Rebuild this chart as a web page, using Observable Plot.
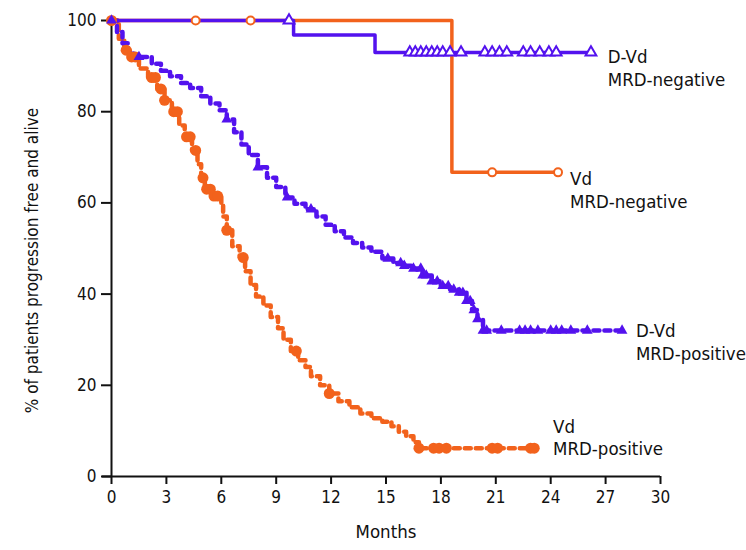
<!DOCTYPE html>
<html>
<head>
<meta charset="utf-8">
<script src="https://cdn.jsdelivr.net/npm/d3@7"></script>
<script src="https://cdn.jsdelivr.net/npm/@observablehq/plot@0.6"></script>
<style>
  html, body { margin: 0; padding: 0; background: #fff; }
  #chart svg { display: block; }
</style>
</head>
<body>
<div id="chart"></div>
<script>
// ---------- data ----------
const xTicks = [0, 3, 6, 9, 12, 15, 18, 21, 24, 27, 30];
const yTicks = [0, 20, 40, 60, 80, 100];
const xLabel = "Months";
const yLabel = "% of patients progression free and alive";

// D-Vd MRD-negative (solid purple)
const dvdNegTime = [0, 9.95, 14.4, 26.3];
const dvdNegSurv = [100, 96.8, 93.0, 93.0];
const dvdNegCens = [9.7, 16.3, 16.6, 16.9, 17.2, 17.5, 17.8, 18.1, 18.5, 19.1, 20.4, 20.8, 21.2, 21.6, 22.5, 22.9, 23.4, 23.9, 24.3, 26.2];

// Vd MRD-negative (solid orange)
const vdNegTime = [0, 18.6, 24.4];
const vdNegSurv = [100, 66.7, 66.7];
const vdNegCens = [4.6, 7.6, 20.8, 24.4];

// D-Vd MRD-positive (dashed purple)
const dvdPosTime = [0, 0.3, 0.6, 0.9, 1.2, 2.2, 2.7, 3.2, 3.8, 4.3, 4.9, 5.4, 5.9, 6.3, 6.7, 7.1, 7.5, 8.0, 8.5, 9.0, 9.5, 10.0, 10.6, 11.2, 11.7, 12.2, 12.7, 13.2, 13.7, 14.2, 14.8, 15.4, 16.0, 16.5, 17.0, 17.5, 18.0, 18.5, 19.0, 19.4, 19.7, 20.0, 20.3, 28.0];
const dvdPosSurv = [100, 97.5, 95, 93, 92, 90.5, 89, 87.8, 86.3, 85.2, 83.4, 81.8, 80.3, 78.3, 75.5, 72.8, 70.5, 67.8, 65.5, 63.5, 61.2, 59.8, 58.6, 57.0, 55.2, 53.8, 52.4, 51.2, 50.2, 49.3, 47.8, 46.8, 46.2, 45.6, 44.1, 42.8, 41.8, 41.0, 40.3, 38.5, 36.5, 34.5, 32.0, 32.0];
const dvdPosCens = [0, 1.5, 6.3, 8.0, 9.6, 10.9, 15.1, 15.8, 16.0, 16.5, 16.9, 17.0, 17.2, 17.5, 17.8, 18.1, 18.4, 18.7, 19.0, 19.2, 19.4, 19.6, 19.8, 20.0, 20.3, 20.5, 21.3, 22.3, 22.6, 22.9, 23.3, 24.0, 24.3, 24.6, 25.1, 26.0, 27.9];

// Vd MRD-positive (dashed orange)
const vdPosTime = [0, 0.4, 0.7, 1.0, 1.5, 2.0, 2.5, 2.9, 3.3, 3.7, 4.0, 4.4, 4.7, 4.9, 5.1, 5.6, 6.0, 6.1, 6.3, 6.6, 7.0, 7.3, 7.6, 7.9, 8.3, 8.7, 9.1, 9.4, 9.8, 10.2, 10.6, 10.9, 11.4, 11.9, 12.4, 13.0, 13.6, 14.2, 14.8, 15.3, 15.7, 16.1, 16.5, 16.8, 23.2];
const vdPosSurv = [100, 96, 93.5, 92, 89.5, 87.5, 85, 82.5, 80, 77, 74.5, 71.5, 68.5, 65.5, 63, 61.5, 60, 57, 54, 50.5, 48, 45, 42, 39.5, 37.5, 35, 32.5, 30, 27.5, 25.5, 24, 22, 20, 18.2, 16.5, 15.2, 13.8, 12.8, 12, 11, 9.8, 8.8, 7.5, 6.2, 6.2];
const vdPosCens = [0, 0.8, 1.1, 1.3, 2.2, 2.4, 2.7, 2.9, 3.4, 3.6, 4.1, 4.3, 4.6, 5.0, 5.2, 5.4, 5.6, 5.8, 6.3, 7.2, 10.1, 11.9, 16.8, 17.6, 17.9, 18.3, 20.8, 21.1, 22.9, 23.1];

const orange = "#f2621c";
const purple = "#5312ee";

// ---------- helpers ----------
const curve = (t, s) => t.map((x, i) => ({x, y: s[i]}));
const censor = (c, t, s) => c.map(x => ({x, y: s[Math.max(0, d3.bisectRight(t, x) - 1)]}));

const dvdNeg = curve(dvdNegTime, dvdNegSurv);
const vdNeg = curve(vdNegTime, vdNegSurv);
const dvdPos = curve(dvdPosTime, dvdPosSurv);
const vdPos = curve(vdPosTime, vdPosSurv);

const font = "'Liberation Sans Narrow', 'DejaVu Sans Condensed', 'Liberation Sans', sans-serif";
const last = a => [a[a.length - 1]];
const lblSize = 18.5;
const lblOpts = {x: "x", y: "y", textAnchor: "start", lineAnchor: "top", lineHeight: 1.24, fontSize: lblSize, fill: "#111"};

const chart = Plot.plot({
  width: 746,
  height: 550,
  marginLeft: 111,
  marginRight: 86,
  marginTop: 20,
  marginBottom: 74,
  style: {fontFamily: font, fontSize: "17px", color: "#111", background: "#fff"},
  x: {domain: [0, 30], label: null},
  y: {domain: [0, 100], label: null},
  marks: [
    // axes
    Plot.axisX({ticks: xTicks, tickSize: 8, tickPadding: 6, fontSize: 17, strokeWidth: 2, label: null}),
    Plot.axisY({ticks: yTicks, tickSize: 10, tickPadding: 5, fontSize: 17, strokeWidth: 2, label: null}),
    Plot.ruleY([0], {stroke: "#111", strokeWidth: 2, insetLeft: -9}),
    Plot.ruleX([0], {stroke: "#111", strokeWidth: 2}),
    Plot.text([xLabel], {frameAnchor: "bottom", dy: 61, fontSize: 18.5, fill: "#111"}),
    Plot.text([yLabel], {frameAnchor: "left", textAnchor: "middle", rotate: -90, dx: -79, dy: 12, fontSize: 17, fill: "#111"}),

    // curves
    Plot.line(vdPos, {x: "x", y: "y", curve: "step-after", stroke: orange, strokeWidth: 4.5, strokeDasharray: "6,5"}),
    Plot.line(dvdPos, {x: "x", y: "y", curve: "step-after", stroke: purple, strokeWidth: 4.5, strokeDasharray: "6,5"}),
    Plot.line(vdNeg, {x: "x", y: "y", curve: "step-after", stroke: orange, strokeWidth: 3.5}),
    Plot.line(dvdNeg, {x: "x", y: "y", curve: "step-after", stroke: purple, strokeWidth: 3.5}),

    // censor marks
    Plot.dot(censor(vdPosCens, vdPosTime, vdPosSurv), {x: "x", y: "y", r: 5.5, fill: orange}),
    Plot.dot(censor(dvdPosCens, dvdPosTime, dvdPosSurv), {x: "x", y: "y", r: 4, symbol: "triangle", fill: purple}),
    Plot.dot(censor(vdNegCens, vdNegTime, vdNegSurv), {x: "x", y: "y", r: 4, fill: "white", stroke: orange, strokeWidth: 2}),
    Plot.dot(censor(dvdNegCens, dvdNegTime, dvdNegSurv), {x: "x", y: "y", r: 4, symbol: "triangle", fill: "white", stroke: purple, strokeWidth: 2}),

    // series labels
    Plot.text(last(dvdNeg), {...lblOpts, text: () => "D-Vd\nMRD-negative", dx: 15, dy: -6}),
    Plot.text(last(vdNeg), {...lblOpts, text: () => "Vd\nMRD-negative", dx: 12, dy: -4}),
    Plot.text(last(dvdPos), {...lblOpts, text: () => "D-Vd\nMRD-positive", dx: 12, dy: -10}),
    Plot.text(last(vdPos), {...lblOpts, text: () => "Vd\nMRD-positive", dx: 17, dy: -32})
  ]
});

document.getElementById("chart").appendChild(chart);
</script>
</body>
</html>
